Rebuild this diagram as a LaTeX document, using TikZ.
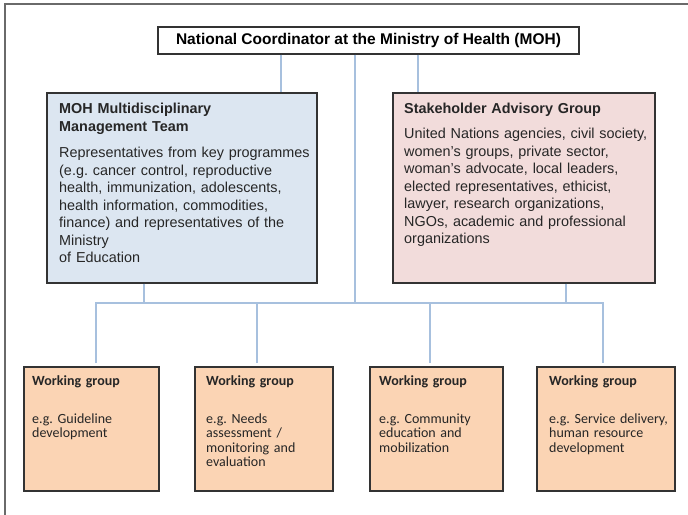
\documentclass[tikz,border=0pt]{standalone}
\usepackage{fontspec}
\setmainfont{Liberation Sans}
\newfontfamily\calfont{Carlito}
\usetikzlibrary{shadows}
\definecolor{linkblue}{HTML}{A7C0DE}
\definecolor{boxblue}{HTML}{DCE6F1}
\definecolor{boxpink}{HTML}{F2DCDB}
\definecolor{boxorange}{HTML}{FBD4B4}
\definecolor{edgegray}{HTML}{333333}
\definecolor{txtgray}{HTML}{262626}
\definecolor{framegray}{HTML}{6A6A6A}
\frenchspacing
\begin{document}
\begin{tikzpicture}[x=1pt,y=-1pt,
  box/.style={draw=edgegray, line width=1.1pt, inner sep=0pt,
    drop shadow={shadow xshift=1.2pt,shadow yshift=-1.2pt,fill=black!40,opacity=1}},
  link/.style={draw=linkblue, line width=1.3pt},
  tx/.style={anchor=base west, inner sep=0pt, align=left, text=txtgray, text width=300pt},
  arialtitle/.style={font=\bfseries\fontsize{14.4}{18}\selectfont},
  arialbody/.style={font=\fontsize{14.4}{17.5}\selectfont},
  wgtitle/.style={font=\calfont\bfseries\fontsize{14}{14.5}\selectfont},
  wgbody/.style={font=\calfont\fontsize{14}{14.5}\selectfont},
]
\useasboundingbox (0,0) rectangle (688,514);
% outer frame
\draw[framegray, line width=1.2pt] (5,530) -- (5,4) -- (700,4);

% boxes
\node[box, fill=white, minimum width=421pt, minimum height=27pt,
  font=\bfseries\fontsize{15.5}{18}\selectfont, text=black] (top) at (368.5,40.5)
  {National Coordinator at the Ministry of Health (MOH)};
\node[box, fill=boxblue, minimum width=270pt, minimum height=190pt] (mgmt) at (182,188) {};
\node[box, fill=boxpink, minimum width=262pt, minimum height=190pt] (adv) at (524,188) {};
\node[box, fill=boxorange, minimum width=135pt, minimum height=124pt] (wg1) at (91.5,429) {};
\node[box, fill=boxorange, minimum width=138pt, minimum height=124pt] (wg2) at (264,429) {};
\node[box, fill=boxorange, minimum width=133pt, minimum height=124pt] (wg3) at (436.5,429) {};
\node[box, fill=boxorange, minimum width=138pt, minimum height=124pt] (wg4) at (606,429) {};

% texts
\node[tx, arialtitle] (mgmtT) at (59,113) {MOH Multidisciplinary\\Management Team};
\node[tx, arialbody] (mgmtB) at (59,157.5) {Representatives from key programmes\\(e.g. cancer control, reproductive\\health, immunization, adolescents,\\health information, commodities,\\finance) and representatives of the\\Ministry\\of Education};
\node[tx, arialtitle] (advT) at (404,113) {Stakeholder Advisory Group};
\node[tx, arialbody] (advB) at (404,138.5) {United Nations agencies, civil society,\\women’s groups, private sector,\\woman’s advocate, local leaders,\\elected representatives, ethicist,\\lawyer, research organizations,\\NGOs, academic and professional\\organizations};

\node[tx, wgtitle] (t1) at (32,385.5) {Working group};
\node[tx, wgbody] (b1) at (32,423) {e.g. Guideline\\development};
\node[tx, wgtitle] (t2) at (206,385.5) {Working group};
\node[tx, wgbody] (b2) at (206,423) {e.g. Needs\\assessment /\\monitoring and\\evaluation};
\node[tx, wgtitle] (t3) at (379,385.5) {Working group};
\node[tx, wgbody] (b3) at (379,423) {e.g. Community\\education and\\mobilization};
\node[tx, wgtitle] (t4) at (549,385.5) {Working group};
\node[tx, wgbody] (b4) at (549,423) {e.g. Service delivery,\\human resource\\development};

% connector coordinates
\coordinate (xa) at (281,0);
\coordinate (xc) at (355,0);
\coordinate (xb) at (418,0);
\coordinate (xm) at (144,0);
\coordinate (xp) at (566,0);
\coordinate (bus) at (0,303);
\coordinate (d1) at (96,363);
\coordinate (d2) at (257,363);
\coordinate (d3) at (430,363);
\coordinate (d4) at (603,363);

% connectors
\draw[link] (top.south -| xa) -- (mgmt.north -| xa);
\draw[link] (top.south -| xb) -- (adv.north -| xb);
\draw[link] (top.south -| xc) -- (bus -| xc);
\draw[link] (mgmt.south -| xm) -- (bus -| xm);
\draw[link] (adv.south -| xp) -- (bus -| xp);
\draw[link] (d1) -- (d1 |- bus) -- (d4 |- bus) -- (d4);
\draw[link] (d2) -- (d2 |- bus);
\draw[link] (d3) -- (d3 |- bus);
\end{tikzpicture}
\end{document}
